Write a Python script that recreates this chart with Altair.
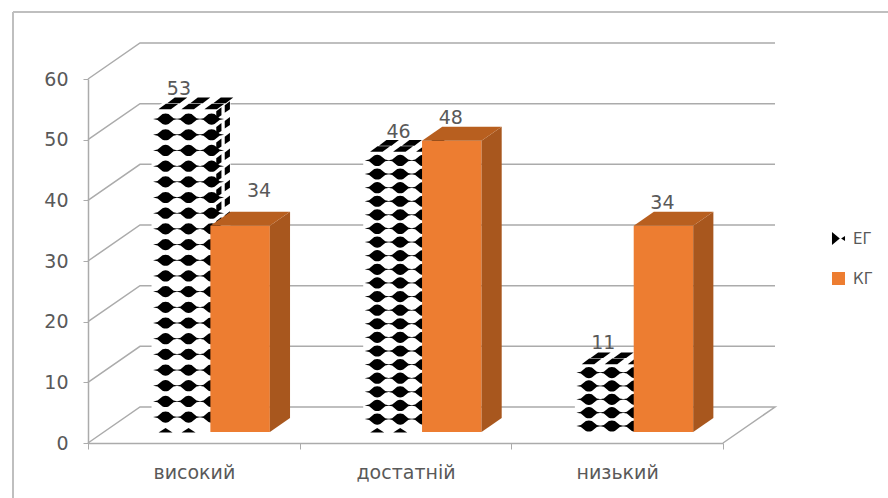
import altair as alt
import pandas as pd

# Survey levels and the two groups' scores
categories = ["високий", "достатній", "низький"]
series_names = ["ЕГ", "КГ"]
eg_values = [53, 46, 11]
kg_values = [34, 48, 34]
y_ticks = [0, 10, 20, 30, 40, 50, 60]

# Layout of the pseudo-3D projection (data units per unit of depth)
PLOT_W, PLOT_H = 635, 364
PX_X = PLOT_W / 3
PX_Y = PLOT_H / 60
DEPTH_X = 52 / PX_X
DEPTH_Y = 36 / PX_Y
BAR_Z0, BAR_Z1 = 0.306, 0.694
BAR_EDGES = (0.225, 0.503, 0.784)

TEXT = "#595959"
GRID = "#ABABAB"
FONT = "DejaVu Sans"
ORANGE_FRONT, ORANGE_SIDE, ORANGE_TOP = "#ED7D31", "#A8571E", "#B85F1F"

# Custom symbols of the checker texture, one per visible face of a bar
BLOB = ("M-1.25 0 L-0.8 -0.09 L-0.3 -0.5 Q0 -0.62 0.3 -0.5 L0.8 -0.09 L1.25 0 "
        "L0.8 0.09 L0.3 0.5 Q0 0.62 -0.3 0.5 L-0.8 0.09 Z")
HALF_BLOB = "M-0.7 0.1 L0 -0.35 L0.7 0.1 Z"
SIDE_BLOB = "M-0.26 0.55 L-0.26 -0.2 L0.26 -0.6 L0.26 0.2 Z"
TOP_BLOB = "M-1 0.28 L-0.25 -0.28 L1 -0.28 L0.25 0.28 Z"
LEGEND_EG = "M-1 -1 L0.2 0 L-1 1 Z M1 -0.4 L0.4 0 L1 0.4 Z"
LEGEND_KG = "M-1 -1 L1 -1 L1 1 L-1 1 Z"


def px(x, z=0.0):
    return x + z * DEPTH_X


def py(v, z=0.0):
    return v + z * DEPTH_Y


# Box faces: vertical-edge parallelograms (front, side) and horizontal-edge ones (top)
vertical_faces, top_faces = [], []
blob_rows = {"front": [], "half": [], "side": [], "top": []}
for s, (values, left, right) in enumerate(
    [(eg_values, BAR_EDGES[0], BAR_EDGES[1]), (kg_values, BAR_EDGES[1], BAR_EDGES[2])]
):
    for i, v in enumerate(values):
        a, b = i + left, i + right
        is_eg = s == 0
        front = "#FFFFFF" if is_eg else ORANGE_FRONT
        side = "#FFFFFF" if is_eg else ORANGE_SIDE
        top = "#FFFFFF" if is_eg else ORANGE_TOP
        fid = f"{s}-{i}"
        vertical_faces += [
            dict(face=fid + "f", x=px(a, BAR_Z0), lo=py(0, BAR_Z0), hi=py(v, BAR_Z0), fill=front, s=s),
            dict(face=fid + "f", x=px(b, BAR_Z0), lo=py(0, BAR_Z0), hi=py(v, BAR_Z0), fill=front, s=s),
            dict(face=fid + "s", x=px(b, BAR_Z0), lo=py(0, BAR_Z0), hi=py(v, BAR_Z0), fill=side, s=s),
            dict(face=fid + "s", x=px(b, BAR_Z1), lo=py(0, BAR_Z1), hi=py(v, BAR_Z1), fill=side, s=s),
        ]
        top_faces += [
            dict(face=fid + "t", x=px(a, BAR_Z0), x2=px(b, BAR_Z0), y=py(v, BAR_Z0), fill=top, s=s),
            dict(face=fid + "t", x=px(a, BAR_Z1), x2=px(b, BAR_Z1), y=py(v, BAR_Z1), fill=top, s=s),
        ]
        if is_eg:
            # The texture is stretched over each bar, so the row pitch follows its height
            repeats = 5 if v < 20 else 20.5
            pitch = v / repeats
            col_step = 23 / PX_X
            col_start = 14 / PX_X
            k = 0
            while (k + 0.55) * pitch < v:
                val = v - (k + 0.55) * pitch
                for c in range(3):
                    blob_rows["front"].append(dict(x=px(a + col_start + c * col_step, BAR_Z0), y=py(val, BAR_Z0)))
                for frac in (0.42, 0.84):
                    z = BAR_Z0 + frac * (BAR_Z1 - BAR_Z0)
                    blob_rows["side"].append(dict(x=px(b, z), y=py(val, z)))
                k += 1
            if repeats > 10:
                for c in range(2):
                    blob_rows["half"].append(dict(x=px(a + col_start + c * col_step, BAR_Z0), y=py(0.1, BAR_Z0)))
            for frac in (0.28, 0.72):
                z = BAR_Z0 + frac * (BAR_Z1 - BAR_Z0)
                for c in range(3):
                    blob_rows["top"].append(dict(x=px(a + col_start * 0.8 + c * col_step, z), y=py(v, z)))

faces_v = pd.DataFrame(vertical_faces)
faces_t = pd.DataFrame(top_faces)

# Gridlines run from the value axis up the side wall and along the back wall
grid_rows = []
for t in y_ticks:
    grid_rows += [
        dict(t=t, n=0, x=0, y=t),
        dict(t=t, n=1, x=px(0, 1), y=py(t, 1)),
        dict(t=t, n=2, x=px(3, 1), y=py(t, 1)),
    ]
grid_rows += [dict(t=0, n=3, x=3, y=0)]
grid = pd.DataFrame(grid_rows)

x_scale = alt.Scale(domain=[0, 3], nice=False, zero=False)
y_scale = alt.Scale(domain=[0, 60], nice=False, zero=False)
X = alt.X("x:Q", scale=x_scale, title=None)
Y = alt.Y("y:Q", scale=y_scale, title=None)

label_expr = "datum.value === 0.5 ? 'високий' : datum.value === 1.5 ? 'достатній' : datum.value === 2.5 ? 'низький' : ''"
axes_layer = (
    alt.Chart(grid)
    .mark_line(color=GRID, strokeWidth=1.5, interpolate="linear")
    .encode(
        x=alt.X(
            "x:Q",
            scale=x_scale,
            title=None,
            axis=alt.Axis(
                values=[0, 0.5, 1, 1.5, 2, 2.5, 3],
                labelExpr=label_expr,
                labelFont=FONT,
                labelFontSize=19,
                labelColor=TEXT,
                labelPadding=14,
                labelOverlap=False,
                labelFlush=False,
                tickSize=6,
                tickColor=GRID,
                tickOpacity={"condition": {"test": "datum.value % 1 === 0", "value": 1}, "value": 0},
                domainColor=GRID,
                domainWidth=1.5,
                grid=False,
            ),
        ),
        y=alt.Y(
            "y:Q",
            scale=y_scale,
            title=None,
            axis=alt.Axis(
                values=y_ticks,
                labelFont=FONT,
                labelFontSize=19,
                labelColor=TEXT,
                labelPadding=15,
                tickSize=5,
                tickColor=GRID,
                domainColor=GRID,
                domainWidth=1.5,
                grid=False,
            ),
        ),
        order="n:Q",
        detail="t:N",
    )
)


def bar_faces(series):
    side = (
        alt.Chart(faces_v[faces_v.s == series])
        .mark_area(interpolate="linear", strokeWidth=0)
        .encode(
            x=X,
            y=alt.Y("lo:Q", scale=y_scale, title=None, stack=None),
            y2="hi:Q",
            fill=alt.Fill("fill:N", scale=None),
            detail="face:N",
        )
    )
    top = (
        alt.Chart(faces_t[faces_t.s == series])
        .mark_area(interpolate="linear", orient="horizontal", strokeWidth=0)
        .encode(
            y=Y,
            x=alt.X("x:Q", scale=x_scale, title=None, stack=None),
            x2="x2:Q",
            fill=alt.Fill("fill:N", scale=None),
            detail="face:N",
        )
    )
    return side, top


def texture(rows, shape, size=400):
    return (
        alt.Chart(pd.DataFrame(rows))
        .mark_point(shape=shape, size=size, filled=True, color="#000000", opacity=1, strokeWidth=0)
        .encode(x=X, y=Y)
    )


eg_side, eg_top = bar_faces(0)
kg_side, kg_top = bar_faces(1)

# Value labels: pixel nudges follow the hand placement of each label
label_rows = []
nudges = {
    0: [(-2, 21), (6, 21), (-1, 22)],
    1: [(19, 35), (-1, 23), (-1, 23)],
}
for s, values in enumerate([eg_values, kg_values]):
    a, b = BAR_EDGES[s], BAR_EDGES[s + 1]
    for i, v in enumerate(values):
        dx, dy = nudges[s][i]
        label_rows.append(
            dict(
                x=px(i + (a + b) / 2, BAR_Z0) + dx / PX_X,
                y=py(v, BAR_Z0) + dy / PX_Y,
                label=str(v),
            )
        )
labels = (
    alt.Chart(pd.DataFrame(label_rows))
    .mark_text(font=FONT, fontSize=19, color=TEXT, baseline="middle", align="center")
    .encode(x=X, y=Y, text="label:N")
)

# Hidden points that only carry the series legend
legend_layer = (
    alt.Chart(pd.DataFrame({"series": series_names, "x": [1, 1], "y": [1, 1]}))
    .mark_point(filled=True, opacity=0)
    .encode(
        x=X,
        y=Y,
        color=alt.Color(
            "series:N",
            scale=alt.Scale(domain=series_names, range=["#000000", ORANGE_FRONT]),
            legend=alt.Legend(
                title=None,
                orient="none",
                legendX=743,
                legendY=152,
                labelFont=FONT,
                labelFontSize=15,
                labelColor=TEXT,
                symbolSize=170,
                symbolOpacity=1,
                symbolStrokeWidth=0,
                rowPadding=24,
                labelOffset=7,
            ),
        ),
        shape=alt.Shape(
            "series:N",
            scale=alt.Scale(domain=series_names, range=[LEGEND_EG, LEGEND_KG]),
            legend=None,
        ),
    )
)

# Light frame along the top and left edges of the chart area
frame_top = alt.Chart(pd.DataFrame({"a": [0]})).mark_rule(color="#BFBFBF", strokeWidth=2).encode(
    x=alt.value(-75), x2=alt.value(800), y=alt.value(-67)
)
frame_left = alt.Chart(pd.DataFrame({"a": [0]})).mark_rule(color="#BFBFBF", strokeWidth=2).encode(
    x=alt.value(-75), y=alt.value(-67), y2=alt.value(419)
)

chart = alt.layer(
    frame_top,
    frame_left,
    axes_layer,
    eg_side,
    eg_top,
    texture(blob_rows["front"], BLOB),
    texture(blob_rows["half"], HALF_BLOB),
    texture(blob_rows["side"], SIDE_BLOB),
    texture(blob_rows["top"], TOP_BLOB),
    kg_side,
    kg_top,
    labels,
    legend_layer,
).properties(
    width=PLOT_W,
    height=PLOT_H,
    padding={"left": 88, "top": 79, "right": 165, "bottom": 55},
    autosize=alt.AutoSizeParams(type="none", contains="content"),
    background="#FFFFFF",
).configure_view(stroke=None)

chart.save("out.html", embed_options={"renderer": "svg", "actions": False})
